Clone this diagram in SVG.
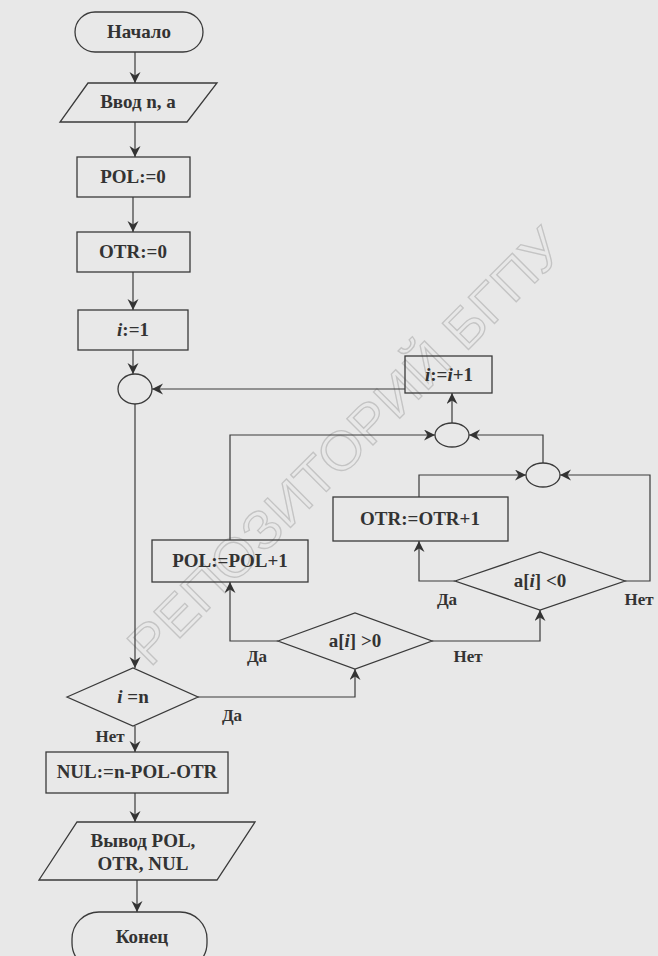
<svg xmlns="http://www.w3.org/2000/svg" width="658" height="956" viewBox="0 0 658 956">
<defs>
<marker id="ah" markerUnits="userSpaceOnUse" markerWidth="13" markerHeight="12" refX="11" refY="5.5" orient="auto">
<path d="M0,0 L11,5.5 L0,11 L3.5,5.5 Z" fill="#333"/>
</marker>
<style>
.n{fill:none;stroke:#3a3a3a;stroke-width:1.3}
.c{fill:none;stroke:#3a3a3a;stroke-width:1.2;marker-end:url(#ah)}
.t{font-family:"Liberation Serif","Times New Roman",serif;font-weight:bold;font-size:19px;fill:#333;text-anchor:middle}
.l{font-family:"Liberation Serif","Times New Roman",serif;font-weight:bold;font-size:17px;fill:#333;text-anchor:middle}
.i{font-style:italic}
.wm{font-family:"Liberation Sans",Arial,sans-serif;font-size:54px;fill:none;stroke:#c4c4c4;stroke-width:1.3}
</style>
</defs>
<rect width="658" height="956" fill="#e8e8e8"/>
<text class="wm" transform="translate(150,668) rotate(-45)" textLength="590" lengthAdjust="spacingAndGlyphs">РЕПОЗИТОРИЙ БГПУ</text>

<g id="connectors">
<polyline class="c" points="135,52 135,83"/>
<polyline class="c" points="135,122 135,157"/>
<polyline class="c" points="133,197 133,232"/>
<polyline class="c" points="133,272 133,310"/>
<polyline class="c" points="133,350 133,374"/>
<polyline class="c" points="405,389 152,389"/>
<polyline class="c" points="452,423 452,393"/>
<polyline class="c" points="230,540 230,435 435,435"/>
<polyline class="c" points="543,463 543,435 469,435"/>
<polyline class="c" points="419,497 419,475 526,475"/>
<polyline class="c" points="455,581 419,581 419,541"/>
<polyline class="c" points="625,581 650,581 650,475 560,475"/>
<polyline class="c" points="278,641 230,641 230,582"/>
<polyline class="c" points="432,641 540,641 540,610"/>
<polyline class="c" points="135,404 135,668"/>
<polyline class="c" points="198,697 355,697 355,669"/>
<polyline class="c" points="135,726 135,752"/>
<polyline class="c" points="135,793 135,822"/>
<polyline class="c" points="137,880 137,912"/>
</g>

<g id="start"><rect class="n" x="75" y="12" width="128" height="40" rx="20"/><text class="t" x="139" y="38">Начало</text></g>
<g id="input"><polygon class="n" points="88,83 217,83 187,122 60,122"/><text class="t" x="138" y="108">Ввод n, a</text></g>
<g id="pol0"><rect class="n" x="77" y="157" width="113" height="40"/><text class="t" x="133" y="183">POL:=0</text></g>
<g id="otr0"><rect class="n" x="77" y="232" width="113" height="40"/><text class="t" x="133" y="258">OTR:=0</text></g>
<g id="i1"><rect class="n" x="78" y="310" width="110" height="40"/><text class="t" x="133" y="336"><tspan class="i">i</tspan>:=1</text></g>
<g id="join0"><ellipse class="n" cx="135" cy="389" rx="17" ry="15"/></g>
<g id="inc"><rect class="n" x="405" y="356" width="87" height="37"/><text class="t" x="449" y="381"><tspan class="i">i</tspan>:=<tspan class="i">i</tspan>+1</text></g>
<g id="join1"><ellipse class="n" cx="452" cy="435" rx="17" ry="12"/></g>
<g id="join2"><ellipse class="n" cx="543" cy="475" rx="17" ry="12"/></g>
<g id="otrinc"><rect class="n" x="333" y="497" width="175" height="44"/><text class="t" x="420" y="525">OTR:=OTR+1</text></g>
<g id="neg"><polygon class="n" points="455,581 540,552 625,581 540,610"/><text class="t" x="540" y="587">a[<tspan class="i">i</tspan>] &lt;0</text>
<text class="l" x="447" y="605">Да</text><text class="l" x="639" y="605">Нет</text></g>
<g id="polinc"><rect class="n" x="152" y="540" width="156" height="42"/><text class="t" x="230" y="567">POL:=POL+1</text></g>
<g id="pos"><polygon class="n" points="278,641 355,613 432,641 355,669"/><text class="t" x="355" y="647">a[<tspan class="i">i</tspan>] &gt;0</text>
<text class="l" x="257" y="662">Да</text><text class="l" x="468" y="662">Нет</text></g>
<g id="cond"><polygon class="n" points="67,697 133,668 198,697 133,726"/><text class="t" x="133" y="703"><tspan class="i">i</tspan> =n</text>
<text class="l" x="232" y="721">Да</text><text class="l" x="110" y="742">Нет</text></g>
<g id="nul"><rect class="n" x="46" y="752" width="182" height="41"/><text class="t" x="137" y="778">NUL:=n-POL-OTR</text></g>
<g id="output"><polygon class="n" points="77,822 255,822 217,880 39,880"/><text class="t" x="143" y="847">Вывод  POL,</text><text class="t" x="143" y="870">OTR, NUL</text></g>
<g id="end"><rect class="n" x="72" y="912" width="135" height="58" rx="27"/><text class="t" x="142" y="943">Конец</text></g>
</svg>
